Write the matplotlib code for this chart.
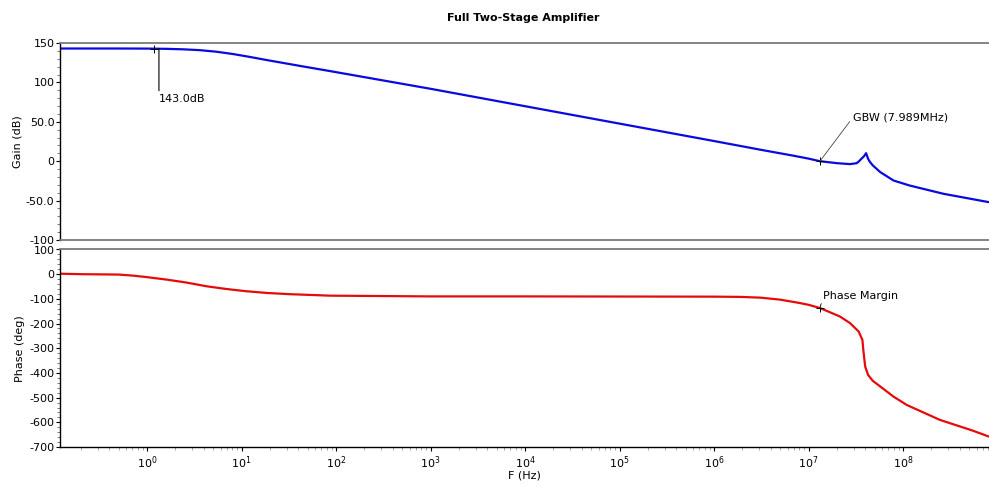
import matplotlib
matplotlib.use("Agg")
import matplotlib.pyplot as plt
from matplotlib.ticker import MultipleLocator, LogLocator, LogFormatterMathtext, NullFormatter, FixedLocator
from matplotlib.transforms import ScaledTranslation

plt.rcParams['font.family'] = ['DejaVu Sans']

# ---- data ----
gain_freq = [0.12, 0.5, 1.0, 1.58, 2.4, 3.63, 5.37, 8.13, 12.3, 18.6, 28.2, 41.7, 87,
             1e3, 1e4, 1e5, 1e6, 3.09e6, 6.92e6, 1e7, 1.32e7, 2.0e7, 2.75e7, 3.24e7,
             3.43e7, 3.63e7, 3.85e7, 4.07e7, 4.27e7, 4.47e7, 4.79e7, 5.75e7, 7.94e7,
             1.17e8, 2.69e8, 8.13e8]
gain_db = [143.0, 143.0, 142.9, 142.6, 142.0, 140.9, 139.0, 136.0, 132.3, 128.3, 124.5,
           120.9, 114.3, 91.9, 69.8, 47.7, 25.6, 14.6, 7.0, 3.3, 0.0, -2.5, -3.7, -2.5,
           0.0, 3.1, 6.0, 10.2, 3.1, -1.0, -5.3, -13.9, -24.5, -30.8, -41.4, -52.0]

phase_freq = [0.12, 0.2, 0.5, 0.72, 1.0, 1.62, 2.63, 4.27, 6.92, 11.2, 18.6, 32.4, 87,
              1e3, 1e4, 1e5, 1e6, 1.9e6, 3.09e6, 5.0e6, 8.13e6, 1e7, 1.32e7, 2.14e7,
              2.75e7, 3.39e7, 3.72e7, 3.8e7, 3.98e7, 4.27e7, 4.79e7, 5.75e7, 7.94e7,
              1.1e8, 2.45e8, 5.5e8, 8.13e8]
phase_deg = [2, 0, -1.5, -6, -12, -22, -34, -49, -60, -69, -76, -81, -87,
             -90, -90, -90.5, -91, -92, -95, -103, -117, -124, -137, -171,
             -198, -232, -266, -306, -374, -408, -432, -455, -496,
             -530, -590, -634, -658]

gain_ticks = [150, 100, 50, 0, -50, -100]
gain_tick_labels = ["150", "100", "50.0", "0", "-50.0", "-100"]
phase_ticks = [100, 0, -100, -200, -300, -400, -500, -600, -700]
phase_tick_labels = ["100", "0", "-100", "-200", "-300", "-400", "-500", "-600", "-700"]
freq_ticks = [1e0, 1e1, 1e2, 1e3, 1e4, 1e5, 1e6, 1e7, 1e8]

dc_marker = (1.2, 143.0)
gbw_marker = (1.32e7, 0.0)
pm_marker = (1.32e7, -137.0)

title = "Full Two-Stage Amplifier"

# ---- figure ----
W, H = 989, 486
fig = plt.figure(figsize=(W / 100, H / 100), dpi=100)

def frac(px_left, px_top, px_right, px_bottom):
    return [px_left / W, 1 - px_bottom / H, (px_right - px_left) / W, (px_bottom - px_top) / H]

ax1 = fig.add_axes(frac(60, 43, 989, 240))
ax2 = fig.add_axes(frac(60, 249.5, 989, 447), sharex=ax1)

BLUE = '#0a0ae0'
RED = '#e60a0a'
ax1.plot(gain_freq, gain_db, color=BLUE, lw=1.6, solid_joinstyle='round')
ax2.plot(phase_freq, phase_deg, color=RED, lw=1.6, solid_joinstyle='round')

ax1.set_xscale('log')
ax1.set_xlim(0.12, 8.13e8)
ax1.set_ylim(-100, 150)
ax2.set_ylim(-700, 100)

fs = 8
for ax in (ax1, ax2):
    ax.spines['right'].set_visible(False)
    ax.spines['top'].set_color('#7a7a7a')
    ax.spines['top'].set_linewidth(1.3)
    ax.spines['left'].set_color('black')
    ax.spines['left'].set_linewidth(1.0)
    ax.tick_params(axis='y', which='major', direction='out', length=3, width=0.8,
                   pad=1, labelsize=fs, colors='black')
    ax.tick_params(axis='y', which='minor', direction='out', length=2, width=0.6,
                   color='#666666')

ax1.spines['bottom'].set_color('#7a7a7a')
ax1.spines['bottom'].set_linewidth(1.3)
ax2.spines['bottom'].set_color('black')
ax2.spines['bottom'].set_linewidth(1.0)

ax1.set_yticks(gain_ticks, gain_tick_labels)
ax1.yaxis.set_minor_locator(MultipleLocator(10))
ax2.set_yticks(phase_ticks, phase_tick_labels)
ax2.yaxis.set_minor_locator(MultipleLocator(20))

ax1.tick_params(axis='x', which='both', bottom=False, labelbottom=False)
ax2.xaxis.set_major_locator(FixedLocator(freq_ticks))
ax2.xaxis.set_major_formatter(LogFormatterMathtext())
ax2.xaxis.set_minor_locator(LogLocator(base=10, subs=range(2, 10), numticks=20))
ax2.xaxis.set_minor_formatter(NullFormatter())
ax2.tick_params(axis='x', which='major', direction='out', length=3, width=0.8,
                pad=2, labelsize=fs, colors='black')
ax2.tick_params(axis='x', which='minor', direction='out', length=2, width=0.6,
                color='#999999')

ax1.set_ylabel("Gain (dB)", fontsize=fs)
ax1.yaxis.set_label_coords(-0.040, 0.5)
ax2.set_ylabel("Phase (deg)", fontsize=fs)
ax2.yaxis.set_label_coords(-0.038, 0.5)
ax2.set_xlabel("F (Hz)", fontsize=fs)
ax2.xaxis.set_label_coords(0.5, -0.118)

fig.text(523 / W, 1 - 17.7 / H, title, ha='center', va='center', fontsize=fs,
         fontweight='bold')

# markers and annotations
mk = dict(marker='+', color='black', markersize=6, mew=0.7, ls='none')
ax1.plot([dc_marker[0]], [dc_marker[1]], **mk)
ax1.plot([gbw_marker[0]], [gbw_marker[1]], **mk)
ax2.plot([pm_marker[0]], [pm_marker[1]], **mk)

shifted = ax1.transData + ScaledTranslation(3.2 / 72, 0, fig.dpi_scale_trans)
ax1.annotate("143.0dB", xy=dc_marker, xycoords=shifted, xytext=(0.0, -36),
             textcoords='offset points', ha='left', va='center', fontsize=fs,
             arrowprops=dict(arrowstyle='-', color='black', lw=0.8,
                             shrinkA=0, shrinkB=0, relpos=(0, 1)))
ax1.annotate("GBW (7.989MHz)", xy=gbw_marker, xytext=(23.5, 31.2), textcoords='offset points',
             ha='left', va='center', fontsize=fs,
             arrowprops=dict(arrowstyle='-', color='#444444', lw=0.6,
                             shrinkA=0, shrinkB=0, relpos=(0, 0.5)))
ax2.annotate("Phase Margin", xy=pm_marker, xytext=(1.9, 8.9), textcoords='offset points',
             ha='left', va='center', fontsize=fs,
             arrowprops=dict(arrowstyle='-', color='#444444', lw=0.6,
                             shrinkA=0, shrinkB=0, relpos=(0, 0.1)))

fig.savefig("out.png", dpi=100)
